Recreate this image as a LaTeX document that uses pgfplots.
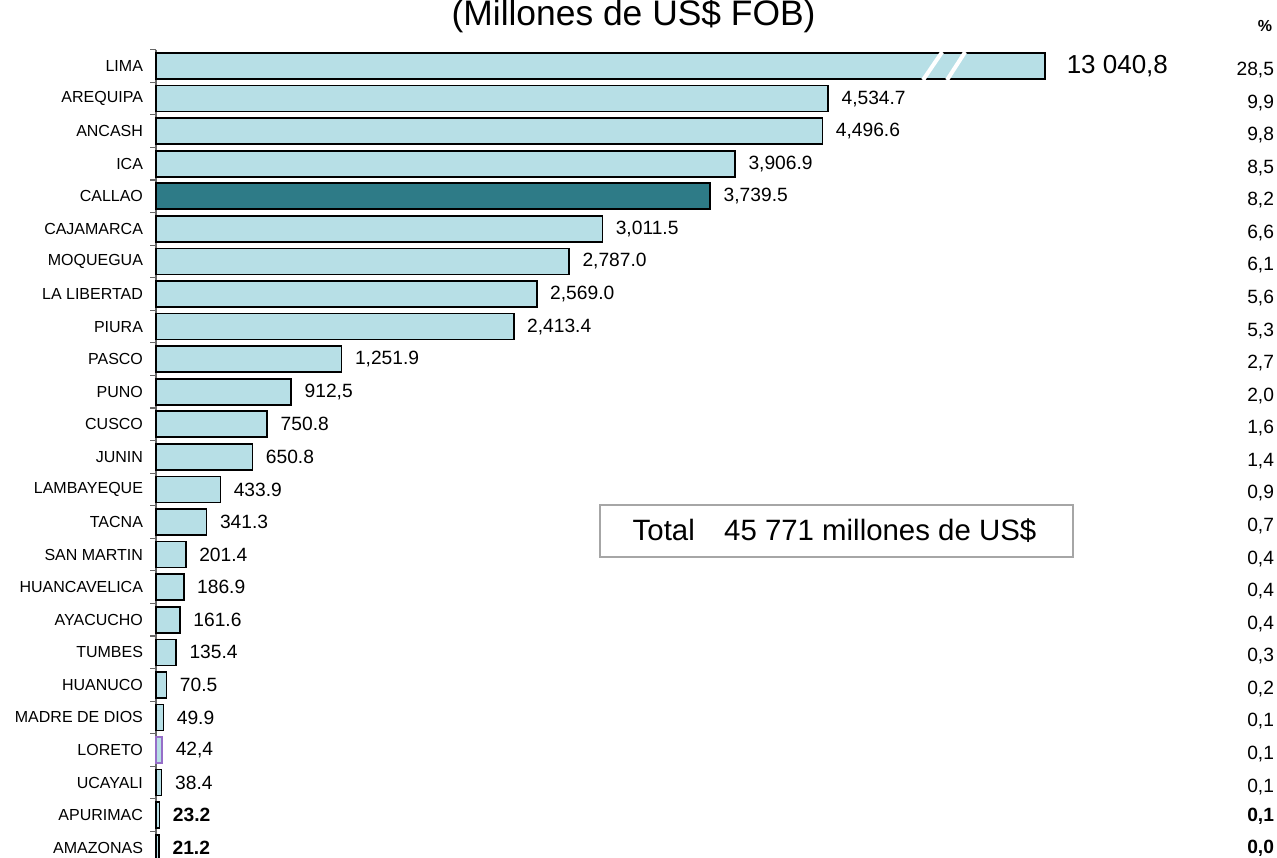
\documentclass[border=0pt]{standalone}
\usepackage{pgfplots}
\pgfplotsset{compat=1.18}
\usepackage{pgfplotstable}
\usepackage{fontspec}
\setmainfont{Liberation Sans}
\definecolor{barblue}{RGB}{183,223,230}
\definecolor{callao}{RGB}{46,123,135}
\definecolor{loreto}{RGB}{150,110,200}

\pgfplotstableread[col sep=semicolon]{
y;x;lab
1;4534.7;4,534.7
2;4496.6;4,496.6
3;3906.9;3,906.9
5;3011.5;3,011.5
6;2787.0;2,787.0
7;2569.0;2,569.0
8;2413.4;2,413.4
9;1251.9;1,251.9
10;912.5;912,5
11;750.8;750.8
12;650.8;650.8
13;433.9;433.9
14;341.3;341.3
15;201.4;201.4
16;186.9;186.9
17;161.6;161.6
18;135.4;135.4
19;70.5;70.5
20;49.9;49.9
22;38.4;38.4
}\regular

\pgfplotstableread[col sep=semicolon]{
y;x;lab
23;23.2;23.2
24;21.2;21.2
}\boldrows

\pgfplotstableread[col sep=semicolon]{
pos;y;pct
7550;0;28,5
7550;1;9,9
7550;2;9,8
7550;3;8,5
7550;4;8,2
7550;5;6,6
7550;6;6,1
7550;7;5,6
7550;8;5,3
7550;9;2,7
7550;10;2,0
7550;11;1,6
7550;12;1,4
7550;13;0,9
7550;14;0,7
7550;15;0,4
7550;16;0,4
7550;17;0,4
7550;18;0,3
7550;19;0,2
7550;20;0,1
7550;21;0,1
7550;22;0,1
}\pcts

\pgfplotstableread[col sep=semicolon]{
pos;y;pct
7550;23;0,1
7550;24;0,0
}\pctsbold

\begin{document}
\begin{tikzpicture}
\useasboundingbox (0,0) rectangle (638.5pt,-428.5pt);
\node[anchor=base, font=\fontsize{17.7}{19}\selectfont] at (316.8pt,-12.5pt) {(Millones de US\$ FOB)};
\node[font=\bfseries\fontsize{8}{9}\selectfont] at (632.5pt,-13pt) {\%};
\begin{axis}[
  at={(78pt,-24.85pt)}, anchor=north west,
  scale only axis, width=559.5pt, height=407.15pt,
  xmin=0, xmax=7550, ymin=-0.5, ymax=24.5,
  y dir=reverse,
  axis x line=none, axis y line*=left,
  y axis line style={-, draw=gray!80!black, line width=0.6pt},
  ytick={0,...,24},
  yticklabels={LIMA,AREQUIPA,ANCASH,ICA,CALLAO,CAJAMARCA,MOQUEGUA,LA LIBERTAD,PIURA,PASCO,PUNO,CUSCO,JUNIN,LAMBAYEQUE,TACNA,SAN MARTIN,HUANCAVELICA,AYACUCHO,TUMBES,HUANUCO,MADRE DE DIOS,LORETO,UCAYALI,APURIMAC,AMAZONAS},
  yticklabel style={font=\fontsize{8}{9}\selectfont, xshift=-3pt},
  major tick length=0pt,
  minor ytick={-0.5,0.5,...,24.5},
  minor tick length=3pt,
  tick align=outside,
  minor tick style={draw=gray!80!black, line width=0.6pt},
  clip=false,
  bar width=13pt,
  every node near coord/.append style={font=\fontsize{9.6}{11}\selectfont, xshift=3pt, text=black},
]
\addplot[xbar, bar shift=0pt, fill=barblue, draw=black, line width=0.8pt,
  nodes near coords, point meta=explicit symbolic,
  every node near coord/.append style={anchor=west}] table[x=x, y=y, meta=lab]{\regular};
\addplot[xbar, bar shift=0pt, fill=barblue, draw=black, line width=0.8pt,
  nodes near coords, point meta=explicit symbolic,
  every node near coord/.append style={anchor=west, font=\bfseries\fontsize{9.6}{11}\selectfont}] table[x=x, y=y, meta=lab]{\boldrows};
\addplot[xbar, bar shift=0pt, fill=callao, draw=black, line width=0.8pt,
  nodes near coords={3,739.5}, every node near coord/.append style={anchor=west}] coordinates {(3739.5,4)};
\addplot[xbar, bar shift=0pt, fill=barblue, draw=loreto, line width=0.8pt,
  nodes near coords={42,4}, every node near coord/.append style={anchor=west}] coordinates {(42.4,21)};
\addplot[xbar, bar shift=0pt, fill=barblue, draw=black, line width=0.8pt,
  nodes near coords={13 040,8},
  every node near coord/.append style={anchor=west, font=\fontsize{13}{15}\selectfont, xshift=4pt}] coordinates {(6000,0)};
\draw[white, line width=2pt] (axis cs:5175,0.43) -- (axis cs:5304,-0.43);
\draw[white, line width=2pt] (axis cs:5337,0.43) -- (axis cs:5459,-0.43);
\addplot[only marks, mark=none, nodes near coords, point meta=explicit symbolic,
  every node near coord/.append style={anchor=east, xshift=0pt, yshift=-2pt, font=\fontsize{9.6}{11}\selectfont}]
  table[x=pos, y=y, meta=pct]{\pcts};
\addplot[only marks, mark=none, nodes near coords, point meta=explicit symbolic,
  every node near coord/.append style={anchor=east, xshift=0pt, yshift=-0.5pt, font=\bfseries\fontsize{9.6}{11}\selectfont}]
  table[x=pos, y=y, meta=pct]{\pctsbold};
\end{axis}
\draw[gray!70, line width=0.7pt] (300pt,-252.5pt) rectangle (536.5pt,-278.5pt);
\node[font=\fontsize{14.7}{17}\selectfont] at (417.25pt,-265.5pt) {Total\quad 45 771 millones de US\$};
\end{tikzpicture}
\end{document}
